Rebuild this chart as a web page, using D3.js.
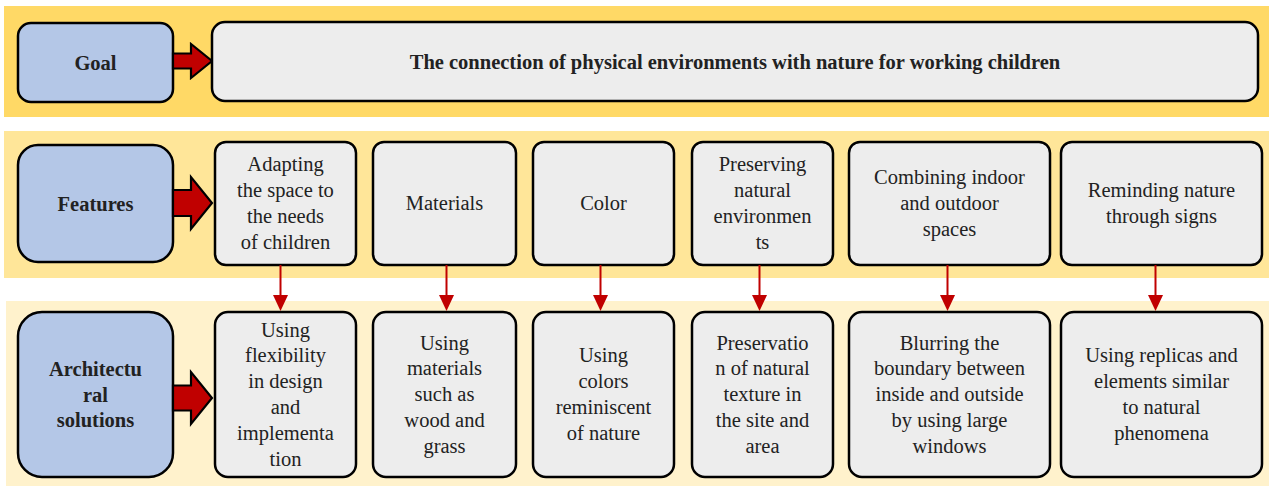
<!DOCTYPE html>
<html>
<head>
<meta charset="utf-8">
<script src="https://cdn.jsdelivr.net/npm/d3@7"></script>
<style>
  html, body { margin: 0; padding: 0; background: #ffffff; }
  svg { display: block; }
</style>
</head>
<body>
<svg id="chart" width="1269" height="486"></svg>
<script>
// ---- data ----
const rowLabels = [["Goal"], ["Features"], ["Architectu", "ral", "solutions"]];
const goalLines = ["The connection of physical environments with nature for working children"];
const features = [
  ["Adapting", "the space to", "the needs", "of children"],
  ["Materials"],
  ["Color"],
  ["Preserving", "natural", "environmen", "ts"],
  ["Combining indoor", "and outdoor", "spaces"],
  ["Reminding nature", "through signs"]
];
const solutions = [
  ["Using", "flexibility", "in design", "and", "implementa", "tion"],
  ["Using", "materials", "such as", "wood and", "grass"],
  ["Using", "colors", "reminiscent", "of nature"],
  ["Preservatio", "n of natural", "texture in", "the site and", "area"],
  ["Blurring the", "boundary between", "inside and outside", "by using large", "windows"],
  ["Using replicas and", "elements similar", "to natural", "phenomena"]
];

// ---- layout / style ----
const colX = [[215, 356], [373, 516], [533, 674], [692, 833], [849, 1050], [1061, 1262]];
const arrowShift = [-5, 2, -3, -3, -2, -6];
const bands = [
  {x: 4, y: 6, w: 1265, h: 111, fill: "#FFD966"},
  {x: 4, y: 131, w: 1265, h: 147, fill: "#FFE699"},
  {x: 6, y: 301, w: 1263, h: 185, fill: "#FFF2CC"}
];
const rows = [
  {y0: 23, y1: 102, r: 13, arrowY: 61, shaftH: 15, headH: 34},
  {y0: 145, y1: 262, r: 20, arrowY: 203, shaftH: 26, headH: 52},
  {y0: 312, y1: 477, r: 24, arrowY: 398, shaftH: 25, headH: 52}
];
const featY = [142, 265], solY = [312, 477];
const FS = 20.5, LH = 25.8;
const RED = "#C00000", TXT = "#222222";

const svg = d3.select("#chart");

// bands
svg.selectAll("rect.band").data(bands).join("rect")
  .attr("class", "band")
  .attr("x", d => d.x).attr("y", d => d.y)
  .attr("width", d => d.w).attr("height", d => d.h)
  .attr("fill", d => d.fill);

function multiline(g, lines, cx, cy, bold) {
  const t = g.append("text")
    .attr("text-anchor", "middle")
    .style("font-family", "'Liberation Serif'")
    .style("font-size", FS + "px")
    .style("font-weight", bold ? "bold" : "normal")
    .attr("fill", TXT);
  const n = lines.length;
  lines.forEach((ln, i) => {
    t.append("tspan")
      .attr("x", cx)
      .attr("y", cy + (i - (n - 1) / 2) * LH)
      .attr("dy", "0.35em")
      .text(ln);
  });
}

// row label boxes (blue)
const lx0 = 18, lx1 = 173;
rows.forEach((r, i) => {
  const g = svg.append("g");
  g.append("rect")
    .attr("x", lx0).attr("y", r.y0)
    .attr("width", lx1 - lx0).attr("height", r.y1 - r.y0)
    .attr("rx", r.r).attr("ry", r.r)
    .attr("fill", "#B4C7E7").attr("stroke", "#000").attr("stroke-width", 2.5);
  multiline(g, rowLabels[i], (lx0 + lx1) / 2, (r.y0 + r.y1) / 2, true);

  // block arrow
  const sx = lx1, hx = 191, tx = 212;
  const cy = r.arrowY, sh = r.shaftH / 2, hh = r.headH / 2;
  const pts = [[sx, cy - sh], [hx, cy - sh], [hx, cy - hh], [tx, cy], [hx, cy + hh], [hx, cy + sh], [sx, cy + sh]];
  g.append("path")
    .attr("d", d3.line()(pts) + "Z")
    .attr("fill", RED).attr("stroke", "#000").attr("stroke-width", 2.2)
    .attr("stroke-linejoin", "miter");
});

// goal box
const gg = svg.append("g");
gg.append("rect")
  .attr("x", 212).attr("y", 22).attr("width", 1258 - 212).attr("height", 101 - 22)
  .attr("rx", 13).attr("ry", 13)
  .attr("fill", "#EDEDED").attr("stroke", "#000").attr("stroke-width", 2.5);
multiline(gg, goalLines, 735, 61.5, true);

function boxRow(data, yr, r) {
  const g = svg.append("g");
  g.selectAll("rect").data(data).join("rect")
    .attr("x", (d, i) => colX[i][0]).attr("y", yr[0])
    .attr("width", (d, i) => colX[i][1] - colX[i][0]).attr("height", yr[1] - yr[0])
    .attr("rx", r).attr("ry", r)
    .attr("fill", "#EDEDED").attr("stroke", "#000").attr("stroke-width", 2.5);
  data.forEach((lines, i) => {
    multiline(g, lines, (colX[i][0] + colX[i][1]) / 2, (yr[0] + yr[1]) / 2 - 0.5, false);
  });
}
boxRow(features, featY, 11);
boxRow(solutions, solY, 13);

// down arrows
const ag = svg.append("g");
colX.forEach((c, i) => {
  const x = (c[0] + c[1]) / 2 + arrowShift[i];
  const yTop = featY[1], yHead = 295, yTip = solY[0] - 1;
  ag.append("line")
    .attr("x1", x).attr("x2", x).attr("y1", yTop).attr("y2", yHead + 1)
    .attr("stroke", RED).attr("stroke-width", 2);
  ag.append("path")
    .attr("d", d3.line()([[x - 7.5, yHead], [x + 7.5, yHead], [x, yTip]]) + "Z")
    .attr("fill", RED);
});
</script>
</body>
</html>
